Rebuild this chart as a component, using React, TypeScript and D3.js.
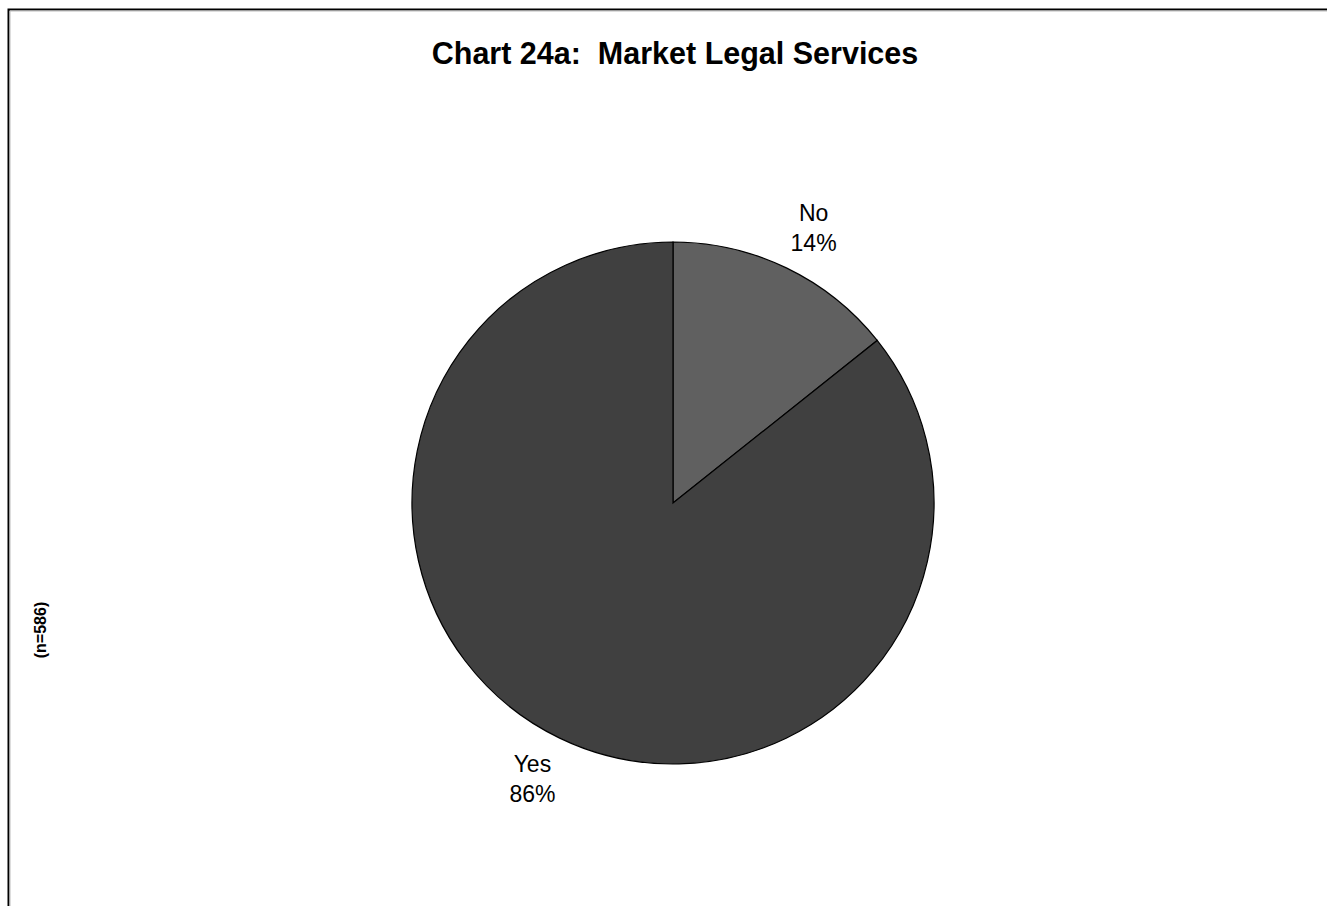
import React from "react";
import * as d3 from "d3";

const categories = ["No", "Yes"];
const values = [14.3, 85.7];
const labels = ["14%", "86%"];
const colors = ["#606060", "#404040"];

const W = 1327;
const H = 906;
const cx = 673;
const cy = 503;
const R = 261;
const LR = 280;
const boxHalfW = 19;
const boxHalfH = 23;

export default function App() {
  const pie = d3.pie<number>().sort(null).value((d) => d)(values);
  const arc = d3.arc<d3.PieArcDatum<number>>().innerRadius(0).outerRadius(R);
  const labelArc = d3.arc<d3.PieArcDatum<number>>().innerRadius(LR).outerRadius(LR);
  const font = "'Liberation Sans', Arial, sans-serif";
  return (
    <svg
      width={W}
      height={H}
      style={{ position: "absolute", left: 0, top: 0, background: "#fff" }}
      fontFamily={font}
    >
      <path d={`M8.5,${H} V9.5 H${W}`} fill="none" stroke="#000" strokeWidth={2} />
      <path d={`M10,${H} V11 H${W}`} fill="none" stroke="#bbb" strokeWidth={1} />
      <text x={675} y={64} textAnchor="middle" fontSize={30.5} fontWeight="bold" style={{ whiteSpace: "pre" }}>
        {"Chart 24a:  Market Legal Services"}
      </text>
      <text
        transform={`translate(46,630) rotate(-90)`}
        textAnchor="middle"
        fontSize={16}
        fontWeight="bold"
      >
        (n=586)
      </text>
      <g transform={`translate(${cx},${cy})`}>
        {pie.map((p, i) => (
          <path key={categories[i]} d={arc(p) || ""} fill={colors[i]} stroke="#000" strokeWidth={1.2} />
        ))}
        {pie.map((p, i) => {
          const [ax, ay] = labelArc.centroid(p);
          const lx = ax + Math.sign(ax) * boxHalfW;
          const ly = ay + Math.sign(ay) * boxHalfH;
          return (
            <text key={"l" + i} x={lx} y={ly} textAnchor="middle" fontSize={23} fill="#000">
              <tspan x={lx} dy={-6.5}>{categories[i]}</tspan>
              <tspan x={lx} dy={30}>{labels[i]}</tspan>
            </text>
          );
        })}
      </g>
    </svg>
  );
}
